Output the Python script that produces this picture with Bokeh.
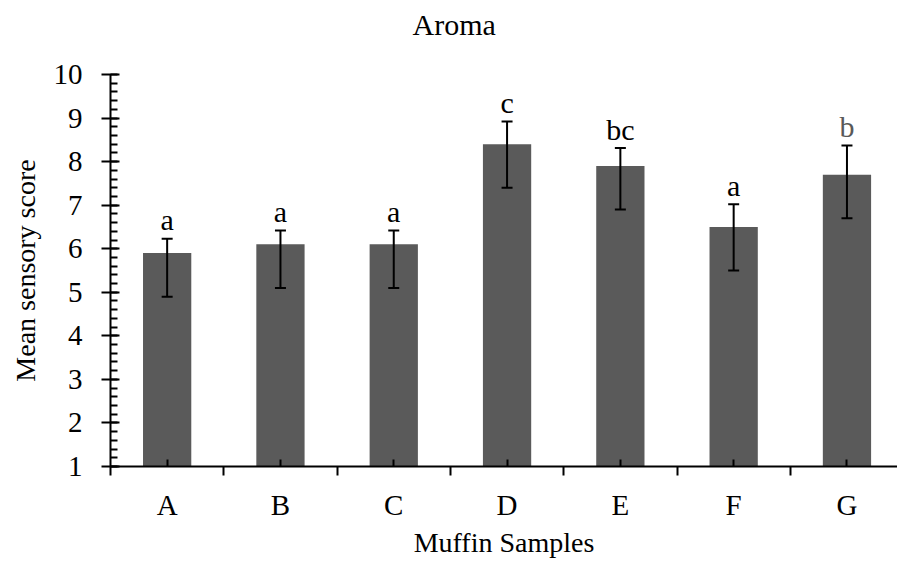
from bokeh.plotting import figure
from bokeh.models import (ColumnDataSource, Range1d, FixedTicker, SingleIntervalTicker,
                          Whisker, TeeHead)
from bokeh.core.properties import value
from bokeh.embed import file_html
from bokeh.resources import INLINE

samples = ["A", "B", "C", "D", "E", "F", "G"]
means = [5.9, 6.1, 6.1, 8.4, 7.9, 6.5, 7.7]
upper = [6.23, 6.42, 6.42, 8.92, 8.31, 7.02, 8.37]
lower = [4.9, 5.1, 5.1, 7.4, 6.9, 5.5, 6.7]
letters = ["a", "a", "a", "c", "bc", "a", "b"]
letter_colors = ["#000000", "#000000", "#000000", "#000000", "#000000", "#000000", "#595959"]

FONT = "Liberation Serif"
xs = list(range(1, len(samples) + 1))

src = ColumnDataSource(dict(x=xs, mean=means, upper=upper, lower=lower,
                            letter=letters, lcolor=letter_colors))

p = figure(width=897, height=565, output_backend="svg", toolbar_location=None,
           x_range=Range1d(0.5, 7.446), y_range=Range1d(1, 10),
           min_border_left=110, min_border_right=0, min_border_top=74,
           min_border_bottom=99)
p.outline_line_color = None
p.grid.visible = False
p.background_fill_color = "white"

p.title.text = "Aroma"
p.title.text_font = FONT
p.title.text_font_size = "30px"
p.title.text_font_style = "normal"
p.title.text_color = "black"
p.title.align = "left"
p.title.offset = 302
p.title.padding = dict(top=0, right=0, bottom=29, left=0)

p.vbar(x="x", top="mean", bottom=1, width=0.426, source=src,
       fill_color="#5a5a5a", line_color=None)

w = Whisker(base="x", upper="upper", lower="lower", source=src,
            line_color="black", line_width=2, level="annotation",
            upper_head=TeeHead(size=11, line_color="black", line_width=2),
            lower_head=TeeHead(size=11, line_color="black", line_width=2))
p.add_layout(w)

p.text(x="x", y="upper", text="letter", source=src, text_color="lcolor",
       text_font=value(FONT), text_font_size="30px", text_align="center",
       text_baseline="alphabetic", y_offset=-19)

# y axis
ya = p.yaxis[0]
ya.ticker = SingleIntervalTicker(interval=1, num_minor_ticks=5)
ya.major_tick_in = 9
ya.major_tick_out = 9
ya.minor_tick_in = 7
ya.minor_tick_out = 0
ya.major_tick_line_width = 2
ya.minor_tick_line_width = 2
ya.axis_line_width = 2
ya.major_label_text_font = FONT
ya.major_label_text_font_size = "29px"
ya.major_label_text_color = "black"
ya.major_label_standoff = 19
ya.axis_label = "Mean sensory score"
ya.axis_label_text_font = FONT
ya.axis_label_text_font_size = "28px"
ya.axis_label_text_font_style = "normal"
ya.axis_label_text_color = "black"
ya.axis_label_standoff = 10

# x axis
xa = p.xaxis[0]
xa.ticker = FixedTicker(ticks=xs, minor_ticks=[x - 0.5 for x in xs] + [xs[-1] + 0.5])
xa.major_label_overrides = {x: s for x, s in zip(xs, samples)}
xa.major_tick_in = 7
xa.major_tick_out = 0
xa.minor_tick_in = 0
xa.minor_tick_out = 9
xa.major_tick_line_width = 2
xa.minor_tick_line_width = 2
xa.axis_line_width = 2
xa.major_label_text_font = FONT
xa.major_label_text_font_size = "29px"
xa.major_label_text_color = "black"
xa.major_label_standoff = 13
xa.axis_label = "Muffin Samples"
xa.axis_label_text_font = FONT
xa.axis_label_text_font_size = "28px"
xa.axis_label_text_font_style = "normal"
xa.axis_label_text_color = "black"
xa.axis_label_standoff = 3

open("out.html", "w").write(file_html(p, INLINE))
